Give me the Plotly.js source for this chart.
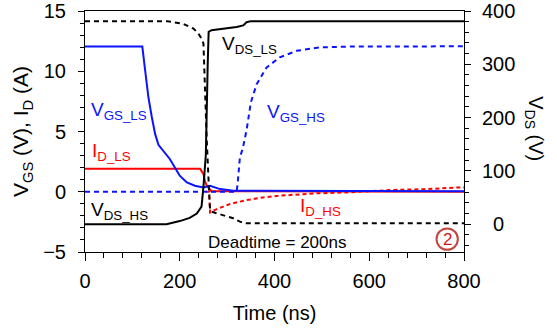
<!DOCTYPE html>
<html>
<head>
<meta charset="utf-8">
<script src="https://cdn.plot.ly/plotly-3.0.1.min.js"></script>
<style>
  html, body { margin: 0; padding: 0; background: #fff; }
  #chart { width: 557px; height: 333px; }
</style>
</head>
<body>
<div id="chart"></div>
<script>
// Switching transient of a half-bridge with 200 ns deadtime.
// Gate voltages and drain currents on the left axis, drain-source voltages on the right.

// Low-side gate voltage V_GS_LS (V)
const tVgsLs = [0, 121, 127, 134, 141, 148, 155, 165, 179, 190, 200, 215, 232, 250, 264, 285, 313, 800];
const vVgsLs = [12.05, 12.05, 10.05, 7.8, 6.2, 4.8, 3.9, 3.4, 2.72, 2.0, 1.33, 0.77, 0.5, 0.36, 0.5, 0.22, 0.08, 0.05];

// High-side gate voltage V_GS_HS (V)
const tVgsHs = [0, 320, 322, 327, 333, 341, 350, 362, 383, 411, 447, 496, 560, 622, 800];
const vVgsHs = [0, 0, 0.6, 2.85, 3.6, 5.1, 7.4, 8.9, 10.3, 11.15, 11.7, 11.98, 12.05, 12.07, 12.07];

// Low-side drain current I_D_LS (A)
const tIdLs = [0, 243, 250, 253, 257, 267, 800];
const iIdLs = [1.9, 1.9, 1.47, 0.91, 0.5, 0.05, 0.0];

// High-side drain current I_D_HS (A)
const tIdHs = [255, 262, 264, 278, 306, 341, 376, 411, 482, 552, 644, 721, 791, 800];
const iIdHs = [0, 0, -1.72, -1.44, -1.02, -0.69, -0.47, -0.33, -0.14, -0.06, 0.14, 0.22, 0.36, 0.36];

// Low-side drain-source voltage V_DS_LS (V)
const tVdsLs = [0, 172, 200, 221, 236, 246, 250, 255, 259, 261, 267, 320, 334, 341, 350, 800];
const vVdsLs = [0, 0, 6, 12, 20, 33, 70, 130, 300, 361, 364, 370, 373, 379, 381, 381];

// High-side drain-source voltage V_DS_HS (V)
const tVdsHs = [0, 172, 207, 229, 239, 246, 250, 253, 257, 262, 264, 267, 292, 313, 327, 340, 800];
const vVdsHs = [381, 381, 376, 367, 358, 348, 339, 250, 158, 60, 27, 23.6, 17.4, 11.2, 4.9, 2, 2];

// Axis ticks
const xTicks = [0, 200, 400, 600, 800];
const yTicks = [-5, 0, 5, 10, 15];
const y2Ticks = [0, 100, 200, 300, 400];
const y2TickText = ['\u20070', '100', '200', '300', '400'];

const FONT = 'Liberation Sans, Arial, Helvetica, sans-serif';
const BLUE = '#0a14ff';
const RED = '#ff0000';
const BLACK = '#000000';

const traces = [
  { x: tVdsHs, y: vVdsHs, yaxis: 'y2', name: 'V_DS_HS', mode: 'lines',
    line: { color: BLACK, width: 2, dash: '5px,4px' } },
  { x: tVdsLs, y: vVdsLs, yaxis: 'y2', name: 'V_DS_LS', mode: 'lines',
    line: { color: BLACK, width: 2 } },
  { x: tIdLs, y: iIdLs, name: 'I_D_LS', mode: 'lines',
    line: { color: RED, width: 2 } },
  { x: tIdHs, y: iIdHs, name: 'I_D_HS', mode: 'lines',
    line: { color: RED, width: 2, dash: '4px,3px' } },
  { x: tVgsHs, y: vVgsHs, name: 'V_GS_HS', mode: 'lines',
    line: { color: BLUE, width: 2, dash: '5px,4px' } },
  { x: tVgsLs, y: vVgsLs, name: 'V_GS_LS', mode: 'lines',
    line: { color: BLUE, width: 2 } }
];

function label(text, x, y, color, size, xanchor) {
  return { text: text, x: x, y: y, xref: 'x', yref: 'y', showarrow: false,
           xanchor: xanchor || 'left', yanchor: 'middle',
           font: { family: FONT, size: size || 19, color: color } };
}

const layout = {
  width: 557, height: 333,
  margin: { l: 85, r: 93, t: 11, b: 81, pad: 0 },
  paper_bgcolor: '#ffffff', plot_bgcolor: '#ffffff',
  showlegend: false,
  font: { family: FONT, size: 20, color: BLACK },
  xaxis: {
    range: [0, 800], tickvals: xTicks, showgrid: false, zeroline: false,
    showline: true, linecolor: BLACK, linewidth: 1, mirror: true,
    ticks: 'outside', ticklen: 8, tickwidth: 1, tickcolor: BLACK,
    ticklabelstandoff: 3,
    minor: { tick0: 0, dtick: 40, ticks: 'outside', ticklen: 5, tickwidth: 1, tickcolor: BLACK },
    tickfont: { family: FONT, size: 20, color: BLACK },
    title: { text: 'Time (ns)', font: { family: FONT, size: 20, color: BLACK }, standoff: 14 }
  },
  yaxis: {
    range: [-5, 15], tickvals: yTicks, showgrid: false, zeroline: false,
    showline: true, linecolor: BLACK, linewidth: 1,
    ticks: 'outside', ticklen: 6, tickwidth: 1, tickcolor: BLACK,
    ticklabelstandoff: 8,
    minor: { tick0: 0, dtick: 1, ticks: 'outside', ticklen: 4, tickwidth: 1, tickcolor: BLACK },
    tickfont: { family: FONT, size: 20, color: BLACK },
    title: { text: 'V<sub>GS</sub> (V), I<sub>D</sub> (A)', font: { family: FONT, size: 21, color: BLACK }, standoff: 8 }
  },
  yaxis2: {
    overlaying: 'y', side: 'right', anchor: 'x',
    range: [-52, 400], tickvals: y2Ticks, ticktext: y2TickText,
    showgrid: false, zeroline: false,
    showline: true, linecolor: BLACK, linewidth: 1,
    ticks: 'outside', ticklen: 6, tickwidth: 1, tickcolor: BLACK,
    ticklabelstandoff: 7,
    minor: { tick0: 0, dtick: 20, ticks: 'outside', ticklen: 4, tickwidth: 1, tickcolor: BLACK },
    tickfont: { family: FONT, size: 20, color: BLACK }
  },
  annotations: [
    label('V<sub>GS_LS</sub>', 8, 6.7, BLUE),
    label('V<sub>DS_LS</sub>', 285, 12.2, BLACK),
    label('V<sub>GS_HS</sub>', 380, 6.5, BLUE),
    label('I<sub>D_LS</sub>', 10, 3.3, RED),
    label('V<sub>DS_HS</sub>', 8, -1.6, BLACK),
    label('I<sub>D_HS</sub>', 449, -1.3, RED),
    label('Deadtime = 200ns', 406, -4.23, BLACK, 17, 'center'),
    label('2', 764.5, -3.93, '#d01818', 17, 'center'),
    { text: 'V<sub>DS</sub> (V)', xref: 'paper', yref: 'paper', x: 1.187, y: 0.51,
      textangle: 90, showarrow: false, xanchor: 'center', yanchor: 'middle',
      font: { family: FONT, size: 20, color: BLACK } }
  ],
  shapes: [
    { type: 'circle', xref: 'x', yref: 'y', x0: 742, x1: 787, y0: -4.82, y1: -3.04,
      line: { color: '#c4453f', width: 2 } }
  ]
};

Plotly.newPlot('chart', traces, layout, { staticPlot: true, displayModeBar: false });
</script>
</body>
</html>
